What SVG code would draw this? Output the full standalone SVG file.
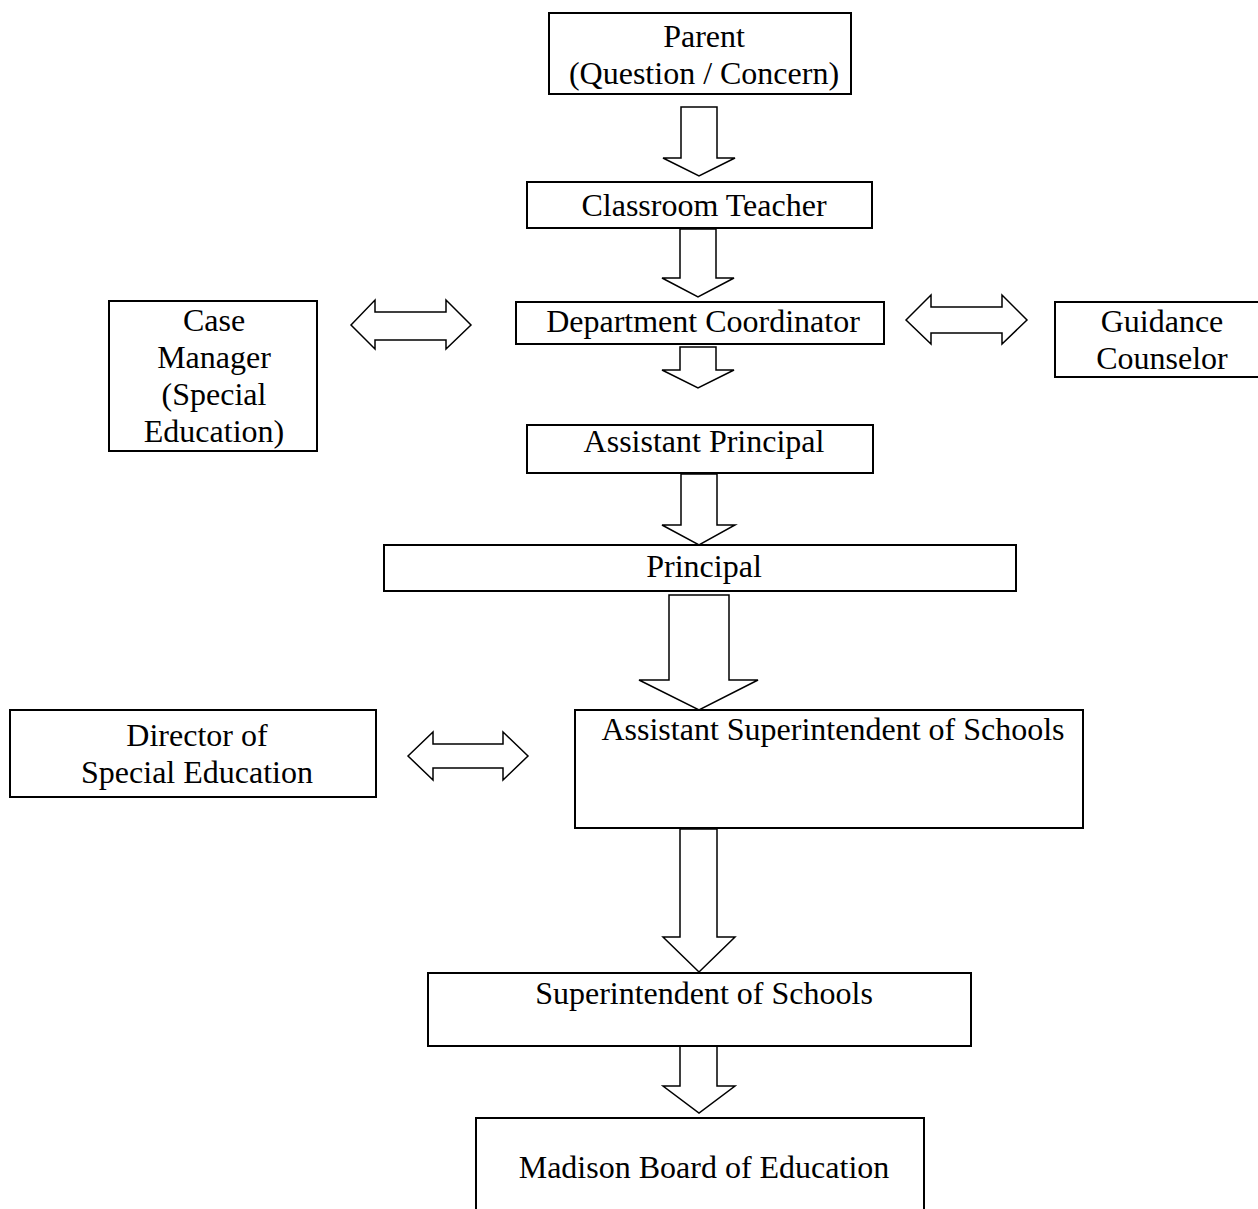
<svg xmlns="http://www.w3.org/2000/svg" width="1258" height="1209" viewBox="0 0 1258 1209">
<style>
.box{fill:#fff;stroke:#000;stroke-width:2}
.arr{fill:#fff;stroke:#000;stroke-width:1.5;stroke-linejoin:miter}
text{font-family:"Liberation Serif","Times New Roman",serif;font-size:32px;fill:#000;text-anchor:middle}
</style>
<rect width="1258" height="1209" fill="#fff"/>
<g id="connectors">
<polygon class="arr" points="681,107 717,107 717,158 735,158 699,176 663,158 681,158"/>
<polygon class="arr" points="680,229 716,229 716,278 734,278 698,297 662,278 680,278"/>
<polygon class="arr" points="680,347 716,347 716,370 734,370 698,388 662,370 680,370"/>
<polygon class="arr" points="681,474 717,474 717,525 735,525 699,545 662,525 681,525"/>
<polygon class="arr" points="669,595 729,595 729,680 758,680 699,710 639,680 669,680"/>
<polygon class="arr" points="680,829 717,829 717,937 735,937 699,972 663,937 680,937"/>
<polygon class="arr" points="680,1046 717,1046 717,1086 735,1086 699,1113 663,1086 680,1086"/>
<polygon class="arr" points="351,325 375,300 375,312 446,312 446,300 471,325 446,349 446,340 375,340 375,349"/>
<polygon class="arr" points="906,320 931,295 931,307 1002,307 1002,295 1027,320 1002,344 1002,333 931,333 931,344"/>
<polygon class="arr" points="408,756 433,732 433,744 503,744 503,732 528,756 503,780 503,768 433,768 433,780"/>
</g>
<g id="parent">
<rect class="box" x="549" y="13" width="302" height="81"/>
<text x="704" y="47">Parent</text>
<text x="704" y="84">(Question / Concern)</text>
</g>
<g id="classroom-teacher">
<rect class="box" x="527" y="182" width="345" height="46"/>
<text x="704" y="216">Classroom Teacher</text>
</g>
<g id="department-coordinator">
<rect class="box" x="516" y="302" width="368" height="42"/>
<text x="703" y="332">Department Coordinator</text>
</g>
<g id="case-manager">
<rect class="box" x="109" y="301" width="208" height="150"/>
<text x="214" y="331">Case</text>
<text x="214" y="368">Manager</text>
<text x="214" y="405">(Special</text>
<text x="214" y="442">Education)</text>
</g>
<g id="guidance-counselor">
<rect class="box" x="1055" y="302" width="204" height="75"/>
<text x="1162" y="332">Guidance</text>
<text x="1162" y="369">Counselor</text>
</g>
<g id="assistant-principal">
<rect class="box" x="527" y="425" width="346" height="48"/>
<text x="704" y="452">Assistant Principal</text>
</g>
<g id="principal">
<rect class="box" x="384" y="545" width="632" height="46"/>
<text x="704" y="577">Principal</text>
</g>
<g id="director-special-education">
<rect class="box" x="10" y="710" width="366" height="87"/>
<text x="197" y="746">Director of</text>
<text x="197" y="783">Special Education</text>
</g>
<g id="assistant-superintendent">
<rect class="box" x="575" y="710" width="508" height="118"/>
<text x="833" y="740">Assistant Superintendent of Schools</text>
</g>
<g id="superintendent">
<rect class="box" x="428" y="973" width="543" height="73"/>
<text x="704" y="1004">Superintendent of Schools</text>
</g>
<g id="madison-board">
<rect class="box" x="476" y="1118" width="448" height="120"/>
<text x="704" y="1178">Madison Board of Education</text>
</g>
</svg>
